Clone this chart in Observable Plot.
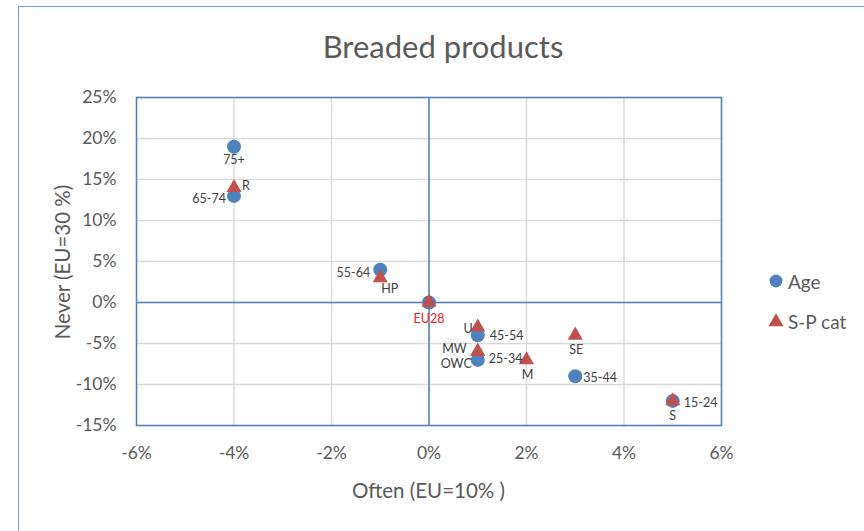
<!DOCTYPE html>
<html>
<head>
<meta charset="utf-8">
<script src="https://cdn.jsdelivr.net/npm/d3@7"></script>
<script src="https://cdn.jsdelivr.net/npm/@observablehq/plot@0.6"></script>
<style>
  html, body { margin: 0; padding: 0; background: #fff; }
  #wrap { position: relative; width: 864px; height: 531px; overflow: hidden; font-family: Lato, "Open Sans", sans-serif; color: #595959; }
  #border { position: absolute; left: 18px; top: 6px; width: 900px; height: 600px; border-left: 1.5px solid #6f9bd1; border-top: 1.5px solid #6f9bd1; }
  #title { position: absolute; left: 0; width: 886px; top: 28px; text-align: center; font-size: 31px; line-height: 36px; }
  #xlabel { position: absolute; left: 0; width: 857px; top: 478px; text-align: center; font-size: 20.5px; line-height: 24px; }
  #ylabel { position: absolute; left: 62px; top: 262px; transform: translate(-50%, -50%) rotate(-90deg); white-space: nowrap; font-size: 20.5px; line-height: 24px; }
  #legend { position: absolute; left: 766px; top: 268px; font-size: 19px; }
  .item { display: flex; align-items: center; height: 26px; margin-bottom: 14px; }
  .item svg { margin-right: 2px; }
  #chart { position: absolute; left: 0; top: 0; }
</style>
</head>
<body>
<div id="wrap">
  <div id="border"></div>
  <div id="chart"></div>
  <div id="title">Breaded products</div>
  <div id="xlabel">Often (EU=10% )</div>
  <div id="ylabel">Never (EU=30 %)</div>
  <div id="legend"></div>
</div>
<script>
// ---- Data ----
const ageNames = ["75+", "65-74", "55-64", "45-54", "35-44", "25-34", "15-24", "EU28"];
const ageOften = [-4, -4, -1, 1, 3, 1, 5, 0];
const ageNever = [19, 13, 4, -4, -9, -7, -12, 0];

const spNames = ["R", "HP", "U", "MW", "OWC", "M", "SE", "S", "EU28"];
const spOften = [-4, -1, 1, 1, 1, 2, 3, 5, 0];
const spNever = [14, 3, -3, -6, -6, -7, -4, -12, 0];

const seriesNames = ["Age", "S-P cat"];
const xTicks = [-6, -4, -2, 0, 2, 4, 6];
const yTicks = [-15, -10, -5, 0, 5, 10, 15, 20, 25];

// ---- Styles ----
const BLUE = "#4f81bd";
const RED = "#c0504d";
const LABEL = "#404040";

const age = ageNames.map((name, i) => ({name, often: ageOften[i], never: ageNever[i], series: seriesNames[0]}));
const sp = spNames.map((name, i) => ({name, often: spOften[i], never: spNever[i], series: seriesNames[1]}));

// label placement (text anchor and pixel offset from its point)
const placement = {
  "75+":   ["middle", 0, 13],
  "65-74": ["end", -8, 3],
  "55-64": ["end", -10, 3],
  "45-54": ["start", 12, 1],
  "35-44": ["start", 8, 2],
  "25-34": ["start", 11, -1],
  "15-24": ["start", 11, 2],
  "EU28":  ["middle", 0, 16],
  "R":     ["start", 8, -2],
  "HP":    ["start", 1, 11],
  "U":     ["end", -5, 2],
  "MW":    ["end", -11, -3],
  "OWC":   ["end", -6, 12],
  "M":     ["middle", 1, 15],
  "SE":    ["middle", 1, 15],
  "S":     ["middle", 0, 15]
};

const labelRows = [...age.filter(d => d.name !== "EU28"), ...sp];
const labelMarks = labelRows.map(d => {
  const [anchor, dx, dy] = placement[d.name];
  return Plot.text([d], {
    x: "often", y: "never", text: "name",
    textAnchor: anchor, dx, dy,
    fontSize: 12.5, fill: d.name === "EU28" ? "#e8201f" : LABEL
  });
});

const chart = Plot.plot({
  width: 864,
  height: 531,
  marginLeft: 136,
  marginRight: 143,
  marginTop: 97,
  marginBottom: 106,
  style: {fontFamily: "Lato, 'Open Sans', sans-serif", fontSize: "17.5px", color: "#595959", background: "transparent"},
  x: {domain: [-6, 6], ticks: xTicks, tickFormat: d => d + "%", tickSize: 0, tickPadding: 21, label: null},
  y: {domain: [-15, 25], ticks: yTicks, tickFormat: d => d + "%", tickSize: 0, tickPadding: 20, label: null},
  marks: [
    Plot.ruleX(xTicks, {stroke: "#d9d9d9", strokeWidth: 1.5}),
    Plot.ruleY(yTicks, {stroke: "#d9d9d9", strokeWidth: 1.5}),
    Plot.ruleX([0], {stroke: BLUE, strokeWidth: 1.5}),
    Plot.ruleY([0], {stroke: BLUE, strokeWidth: 1.5}),
    Plot.frame({stroke: BLUE, strokeWidth: 1.5}),
    Plot.dot(age, {x: "often", y: "never", r: 7, fill: BLUE, stroke: "none", symbol: "circle"}),
    Plot.dot(sp, {x: "often", y: "never", r: 5.6, fill: RED, stroke: "none", symbol: "triangle"}),
    ...labelMarks
  ]
});
document.getElementById("chart").appendChild(chart);

// legend
const legend = document.getElementById("legend");
seriesNames.forEach((name, i) => {
  const item = document.createElement("div");
  item.className = "item";
  const sym = i === 0
    ? `<svg width="20" height="20"><circle cx="10" cy="10" r="6.5" fill="${BLUE}"/></svg>`
    : `<svg width="20" height="20"><path d="${d3.symbol(d3.symbolTriangle, Math.PI * 5.6 * 5.6)()}" transform="translate(10,11)" fill="${RED}"/></svg>`;
  item.innerHTML = sym + `<span>${name}</span>`;
  legend.appendChild(item);
});
</script>
</body>
</html>
